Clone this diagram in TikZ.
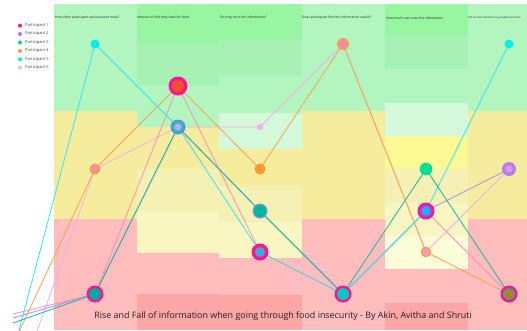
\documentclass[tikz,border=0pt]{standalone}
\usepackage{fontspec}
\setmainfont{Open Sans}
\definecolor{grnA}{HTML}{B3F5BF}
\definecolor{grnD}{HTML}{98F5A2}
\definecolor{grnM}{HTML}{A8F1B5}
\definecolor{grnVL}{HTML}{D3F8DA}
\definecolor{yelA}{HTML}{F5EC9E}
\definecolor{yelB}{HTML}{F5F1B4}
\definecolor{yelC}{HTML}{F9F6C2}
\definecolor{yelBr}{HTML}{FDFA96}
\definecolor{yelVL}{HTML}{FCFCD8}
\definecolor{redA}{HTML}{FFBDBD}
\definecolor{redD}{HTML}{FCA6A6}
\definecolor{cP1}{HTML}{FF1493}
\definecolor{cP2}{HTML}{B070F0}
\definecolor{cP3}{HTML}{00D690}
\definecolor{cP4}{HTML}{FF9A40}
\definecolor{cP5}{HTML}{00EEF0}
\definecolor{cP6}{HTML}{F8B4F0}
\definecolor{lP1}{HTML}{F590B8}
\definecolor{lP2}{HTML}{A890F0}
\definecolor{lP3}{HTML}{18B8A0}
\definecolor{lP4}{HTML}{FFA050}
\definecolor{lP5}{HTML}{30E4F0}
\definecolor{lP6}{HTML}{F0B0E8}
\definecolor{ink}{HTML}{222222}
\definecolor{mPinkA}{HTML}{F090C0}
\definecolor{mTealA}{HTML}{00A8A0}
\definecolor{mRed}{HTML}{FF5030}
\definecolor{mBlueRing}{HTML}{7B80E0}
\definecolor{mTealB}{HTML}{20C0C0}
\definecolor{mLav}{HTML}{C0A8F4}
\definecolor{mPinkS}{HTML}{F0B4F0}
\definecolor{mOrB}{HTML}{FF9A30}
\definecolor{mBlueRing2}{HTML}{8C90E0}
\definecolor{mTealC}{HTML}{00B8A0}
\definecolor{mSky}{HTML}{40A8E0}
\definecolor{mOr}{HTML}{FFA040}
\definecolor{mPinkB}{HTML}{F08AB8}
\definecolor{mCyanT}{HTML}{00C8C8}
\definecolor{mGreen}{HTML}{00E090}
\definecolor{mPurp}{HTML}{B040D0}
\definecolor{mBlue}{HTML}{20B0F0}
\definecolor{mPinkC}{HTML}{F09AC8}
\definecolor{mPurpL}{HTML}{B080F0}
\definecolor{mPinkD}{HTML}{E890F0}
\definecolor{mTealD}{HTML}{20B090}
\definecolor{mBrown}{HTML}{B08030}
\tikzset{
  conn/.style={line width=0.8pt, line join=round},
  hdr/.style={anchor=west, inner sep=0pt, font=\fontsize{3.3}{4}\selectfont, text=ink},
  leg/.style={anchor=west, inner sep=0pt, font=\fontsize{4}{5}\selectfont, text=ink!85},
  legdot/.style={circle, inner sep=0pt, minimum size=4pt},
}
\begin{document}
\begin{tikzpicture}[x=1pt,y=-1pt]
\useasboundingbox (0,0) rectangle (527,330);
\begin{scope}
\clip (0,0) rectangle (527,330);
% base bands
\fill[grnA] (54,4) rectangle (527,111);
\fill[yelA] (54,111) rectangle (527,219);
\fill[redA] (54,219) rectangle (527,330);
% column 2
\fill[grnD] (137,4) rectangle (219,44);
\fill[grnM] (137,44) rectangle (219,86);
\fill[grnA] (137,86) rectangle (219,127);
\fill[yelA] (137,127) rectangle (219,169);
\fill[yelB] (137,169) rectangle (219,211);
\fill[yelC] (137,211) rectangle (219,253);
\fill[redA] (137,253) rectangle (219,294);
\fill[redD] (137,294) rectangle (219,330);
% column 3
\fill[grnD] (219,4) rectangle (302,40);
\fill[grnM] (219,40) rectangle (302,76);
\fill[grnA] (219,76) rectangle (302,113);
\fill[grnVL] (219,113) rectangle (302,149);
\fill[yelA] (219,149) rectangle (302,186);
\fill[yelB] (219,186) rectangle (302,222);
\fill[yelC] (219,222) rectangle (302,258);
\fill[redA] (219,258) rectangle (302,295);
\fill[redD] (219,295) rectangle (302,330);
% column 5
\fill[grnD] (385,4) rectangle (468,36);
\fill[grnM] (385,36) rectangle (468,69);
\fill[grnA] (385,69) rectangle (468,103);
\fill[grnVL] (385,103) rectangle (468,136);
\fill[yelBr] (385,136) rectangle (468,169);
\fill[yelB] (385,169) rectangle (468,203);
\fill[yelC] (385,203) rectangle (468,236);
\fill[yelVL] (385,236) rectangle (468,269);
\fill[redA] (385,269) rectangle (468,303);
\fill[redD] (385,303) rectangle (468,330);

% data points
\coordinate (a1) at (95,44);
\coordinate (a2) at (95,169);
\coordinate (a3) at (95,294);
\coordinate (b1) at (178,86);
\coordinate (b2) at (178,127);
\coordinate (c1) at (260,127);
\coordinate (c2) at (260,169);
\coordinate (c3) at (260,211);
\coordinate (c4) at (260,252);
\coordinate (d1) at (343,44);
\coordinate (d2) at (343,294);
\coordinate (e1) at (426,169);
\coordinate (e2) at (426,211);
\coordinate (e3) at (426,252);
\coordinate (f1) at (509,44);
\coordinate (f2) at (509,169);
\coordinate (f3) at (509,294);
% start points
\coordinate (s1) at (13,314);
\coordinate (s2) at (13,318);
\coordinate (s3) at (13,323);
\coordinate (s4) at (18,334);
\coordinate (s5) at (18,334);
\coordinate (s6) at (36,334);

% connectors
\draw[conn, lP6] (s6) -- (a2) -- (b2) -- (c1) -- (d1) -- (e3) -- (f2);
\draw[conn, lP4] (s4) -- (a2) -- (b1) -- (c2) -- (d1) -- (e3) -- (f3);
\draw[conn, lP1] (s1) -- (a3) -- (b1) -- (c4) -- (d2) -- (e2) -- (f3);
\draw[conn, lP2] (s2) -- (a3) -- (b2) -- (c3) -- (d2) -- (e2) -- (f2);
\draw[conn, lP5] (s5) -- (a1) -- (b2) -- (c4) -- (d2) -- (e2) -- (f1);
\draw[conn, lP3] (s3) -- (a3) -- (b2) -- (c3) -- (d2) -- (e1) -- (f3);

% markers
\fill[cP5] (a1) circle (4.5);
\fill[cP4] (a2) circle (5.5); \fill[mPinkA] (a2) circle (3.5);
\fill[cP1] (a3) circle (8.5); \fill[mTealA] (a3) circle (6);
\fill[cP1] (b1) circle (9.5); \fill[mRed] (b1) circle (6);
\fill[mBlueRing] (b2) circle (7.5); \fill[mTealB] (b2) circle (6); \fill[mLav] (b2) circle (3.5);
\fill[mPinkS] (c1) circle (3.2);
\fill[mOrB] (c2) circle (5.5);
\fill[mBlueRing2] (c3) circle (7.5); \fill[mTealC] (c3) circle (6.3);
\fill[cP1] (c4) circle (8.5); \fill[mSky] (c4) circle (5);
\fill[mOr] (d1) circle (6); \fill[mPinkB] (d1) circle (4.3);
\fill[cP1] (d2) circle (8.5); \fill[mCyanT] (d2) circle (6);
\fill[mGreen] (e1) circle (6.3);
\fill[cP1] (e2) circle (8.5); \fill[mPurp] (e2) circle (6.5); \fill[mBlue] (e2) circle (4.5);
\fill[mOr] (e3) circle (5.3); \fill[mPinkC] (e3) circle (3.6);
\fill[cP5] (f1) circle (4.5);
\fill[mPurpL] (f2) circle (7); \fill[mPinkD] (f2) circle (3.6);
\fill[cP1] (f3) circle (8.5); \fill[mTealD] (f3) circle (6); \fill[mBrown] (f3) circle (5);
\end{scope}

% headers
\node[hdr] (h1) at (55,18) {How often participant eat balanced meal?};
\node[hdr] (h2) at (137,18) {Amount of info they seek for food};
\node[hdr] (h3) at (220,18) {Do they trust the information?};
\node[hdr] (h4) at (302,18) {Does participant find the information useful?};
\node[hdr] (h5) at (386,18) {How much user uses the information};
\node[hdr, font=\fontsize{2.5}{3}\selectfont] (h6) at (468,18) {Did the info help them to get balanced meal?};

% legend
\node[legdot, fill=cP1] (k1) at (20,25.7) {};
\node[legdot, fill=cP2] (k2) at (20,34) {};
\node[legdot, fill=cP3] (k3) at (20,42.5) {};
\node[legdot, fill=cP4] (k4) at (20,51) {};
\node[legdot, fill=cP5] (k5) at (20,59.3) {};
\node[legdot, fill=cP6] (k6) at (20,67.7) {};
\node[leg] (t1) at (25,25.7) {Participant 1};
\node[leg] (t2) at (25,34) {Participant 2};
\node[leg] (t3) at (25,42.5) {Participant 3};
\node[leg] (t4) at (25,51) {Participant 4};
\node[leg] (t5) at (25,59.3) {Participant 5};
\node[leg] (t6) at (25,67.7) {Participant 6};

% title
\node[inner sep=0pt, font=\fontsize{8.9}{10}\selectfont, text=ink] (title) at (283,316) {Rise and Fall of information when going through food insecurity - By Akin, Avitha and Shruti};
\end{tikzpicture}
\end{document}
